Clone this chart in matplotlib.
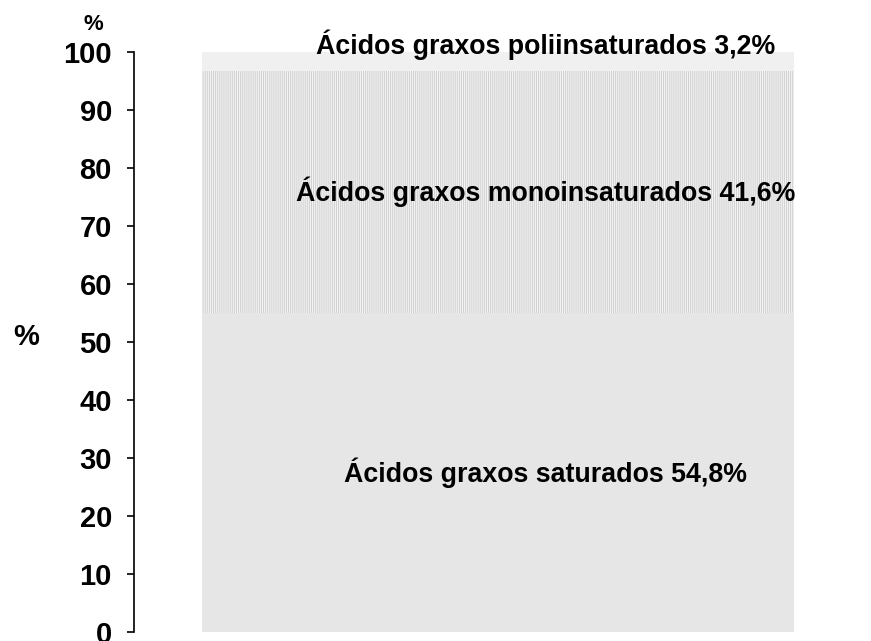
import numpy as np
import matplotlib.pyplot as plt

plt.rcParams['font.family'] = ['Liberation Sans', 'DejaVu Sans']
plt.rcParams['hatch.linewidth'] = 0.7

# composition of fatty acids (%)
labels = ['Ácidos graxos saturados', 'Ácidos graxos monoinsaturados', 'Ácidos graxos poliinsaturados']
values = [54.8, 41.6, 3.2]
value_text = ['54,8%', '41,6%', '3,2%']
yticks = [0, 10, 20, 30, 40, 50, 60, 70, 80, 90, 100]

colors = ['#e6e6e6', '#f4f4f4', '#f0f0f0']
hatches = [None, '||||||||', None]

shares = np.array(values) / sum(values) * 100

fig = plt.figure(figsize=(8.71, 6.41), dpi=100)
ax = fig.add_axes([0.154, 0.014, 0.834, 0.905])

bottom = 0
for i, s in enumerate(shares):
    ax.bar(0, s, width=1, bottom=bottom, color=colors[i], hatch=hatches[i],
           edgecolor='#cfcfcf' if hatches[i] else colors[i], linewidth=0)
    if i < 2:
        ypos = bottom + s / 2
    else:
        ypos = 101.2
    # labels sit a bit right of the bar centre in the original
    ax.text(0.08, ypos, labels[i] + ' ' + value_text[i], ha='center', va='center',
            fontsize=19.3, fontweight='bold')
    bottom += s

ax.set_xlim(-0.615, 0.613)
ax.set_ylim(0, 100)
ax.set_yticks(yticks)
ax.set_yticklabels([str(t) for t in yticks], fontsize=21, fontweight='bold')
ax.tick_params(axis='y', length=5, width=1.2, pad=11)
ax.set_xticks([])
for side in ['top', 'right', 'bottom']:
    ax.spines[side].set_visible(False)
ax.spines['left'].set_linewidth(1.2)

fig.text(26 / 871, 1 - 337 / 641, '%', ha='center', va='center', fontsize=21, fontweight='bold')
fig.text(93 / 871, 1 - 25 / 641, '%', ha='center', va='center', fontsize=16, fontweight='bold')

fig.savefig('out.png', dpi=100)
